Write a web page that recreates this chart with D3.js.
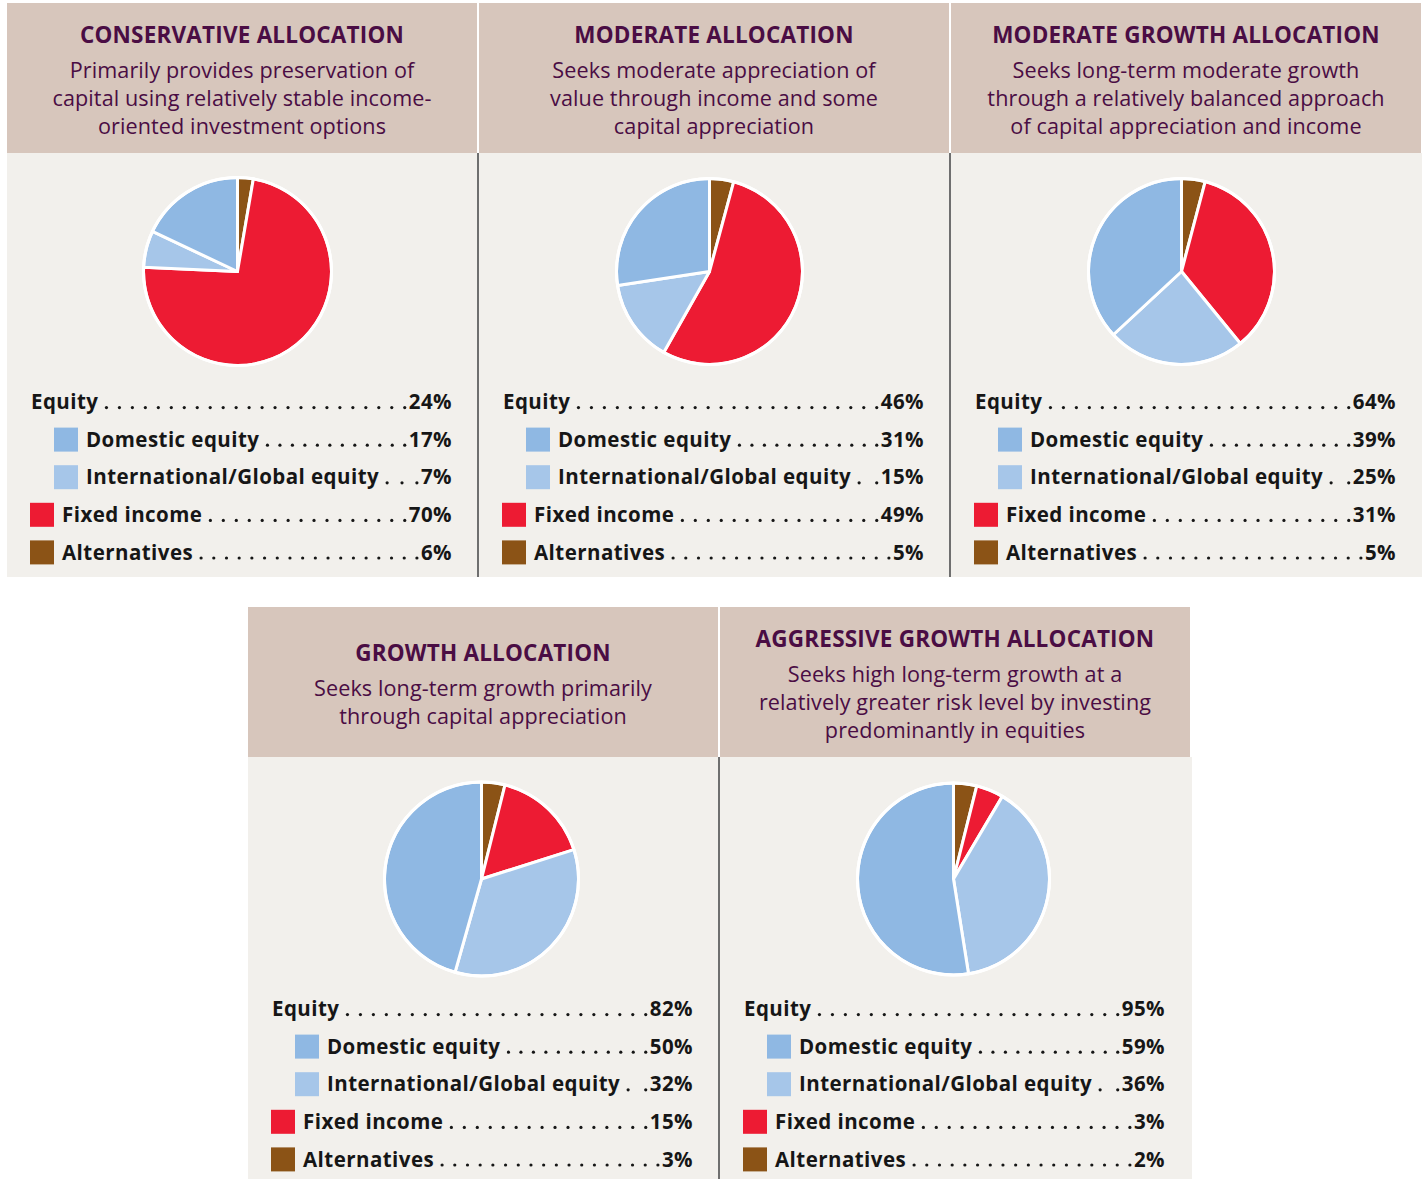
<!DOCTYPE html>
<html lang="en">
    <head>
        <meta charset="utf-8">
        <title>Asset allocation models</title>
        <script type="text/javascript" src="https://cdn.jsdelivr.net/npm/d3@7"></script>
        <style>
            body { margin: 0; background: #ffffff; }
            svg text { font-family: "Open Sans", sans-serif; }
        </style>
    </head>
    <body>
        <div class="chart"></div>
        <script type="text/javascript">
            // panel texts
            var titles = ["CONSERVATIVE ALLOCATION", "MODERATE ALLOCATION", "MODERATE GROWTH ALLOCATION",
                          "GROWTH ALLOCATION", "AGGRESSIVE GROWTH ALLOCATION"];
            var descriptions = [
                ["Primarily provides preservation of", "capital using relatively stable income-", "oriented investment options"],
                ["Seeks moderate appreciation of", "value through income and some", "capital appreciation"],
                ["Seeks long-term moderate growth", "through a relatively balanced approach", "of capital appreciation and income"],
                ["Seeks long-term growth primarily", "through capital appreciation"],
                ["Seeks high long-term growth at a", "relatively greater risk level by investing", "predominantly in equities"]
            ];
            var categories = ["Equity", "Domestic equity", "International/Global equity", "Fixed income", "Alternatives"];

            // listed percentages (legend text)
            var equityPct   = [24, 46, 64, 82, 95];
            var domesticPct = [17, 31, 39, 50, 59];
            var intlPct     = [7, 15, 25, 32, 36];
            var fixedPct    = [70, 49, 31, 15, 3];
            var altPct      = [6, 5, 5, 3, 2];

            // wedge sizes as drawn in the pies (they do not follow the listed numbers exactly)
            var sliceAlt      = [2.7, 4.2, 4.1, 3.9, 3.9];
            var sliceFixed    = [73, 54, 35, 16.2, 4.6];
            var sliceIntl     = [6.3, 14.4, 24, 34.3, 39];
            var sliceDomestic = [18, 27.4, 36.9, 45.6, 52.5];

            var colors = {alt: "#8b5316", fixed: "#ed1b33", intl: "#a6c6e9", dom: "#8fb8e3"};

            var w = 1427, h = 1179;
            var svg = d3.select("div.chart").append("svg")
                        .attr("width", w).attr("height", h);

            // panel boxes: left, header top, body bottom, pie radius
            var panelW = 470;
            var boxes = [
                {x: 7,   top: 3,   bottom: 577, r: 94},
                {x: 479, top: 3,   bottom: 577, r: 93},
                {x: 951, top: 3,   bottom: 577, r: 93},
                {x: 248, top: 607, bottom: 1179, r: 97},
                {x: 720, top: 607, bottom: 1179, r: 96}
            ];
            var headH = 150;

            // body backgrounds (one per row)
            svg.append("rect").attr("x", 7).attr("y", 153).attr("width", 1415).attr("height", 424).attr("fill", "#f2f0ec");
            svg.append("rect").attr("x", 248).attr("y", 757).attr("width", 944).attr("height", 422).attr("fill", "#f2f0ec");

            var pie = d3.pie().sort(null).value(function(d){ return d.v; });
            var arc = d3.arc().innerRadius(0);

            boxes.forEach(function(b, i){
                var g = svg.append("g").attr("transform", "translate(" + b.x + "," + b.top + ")");

                // header
                g.append("rect").attr("x", 0).attr("y", 0).attr("width", panelW).attr("height", headH)
                 .attr("fill", "#d7c6bc");
                var lines = descriptions[i];
                var blockH = 16.7 + 34.3 + 28 * (lines.length - 1);
                var titleY = 77.2 - blockH / 2 + 16.7;
                g.append("text").attr("x", panelW / 2).attr("y", titleY)
                 .attr("text-anchor", "middle").attr("font-size", 22.5).attr("font-weight", 700)
                 .attr("letter-spacing", 0.2)
                 .attr("fill", "#4a0d44").text(titles[i]);
                g.selectAll("text.desc").data(lines).enter().append("text")
                 .attr("class", "desc")
                 .attr("x", panelW / 2)
                 .attr("y", function(d, k){ return titleY + 34.3 + 28 * k; })
                 .attr("text-anchor", "middle").attr("font-size", 21.6).attr("fill", "#4a0d44")
                 .attr("letter-spacing", 0.1)
                 .text(function(d){ return d; });

                // divider to the left of panels 2, 3, 5
                if (i === 1 || i === 2 || i === 4) {
                    svg.append("line")
                       .attr("x1", b.x - 1).attr("x2", b.x - 1)
                       .attr("y1", b.top + headH).attr("y2", b.bottom)
                       .attr("stroke", "#6f6f6f").attr("stroke-width", 2);
                }

                // pie
                var slices = [
                    {k: "alt", v: sliceAlt[i]},
                    {k: "fixed", v: sliceFixed[i]},
                    {k: "intl", v: sliceIntl[i]},
                    {k: "dom", v: sliceDomestic[i]}
                ];
                var cy = (i < 3) ? 268.5 : 272;
                var pg = g.append("g").attr("transform", "translate(" + (i < 3 ? 230.5 : 233.5) + "," + cy + ")");
                arc.outerRadius(b.r);
                pg.selectAll("path").data(pie(slices)).enter().append("path")
                  .attr("d", arc)
                  .attr("fill", function(d){ return colors[d.data.k]; })
                  .attr("stroke", "#ffffff").attr("stroke-width", 3)
                  .attr("stroke-linejoin", "round");
                pg.append("circle").attr("r", b.r).attr("fill", "none")
                  .attr("stroke", "#ffffff").attr("stroke-width", 3);

                // legend rows
                var rows = [
                    {label: categories[0], val: equityPct[i], sw: null, indent: 0},
                    {label: categories[1], val: domesticPct[i], sw: colors.dom, indent: 1},
                    {label: categories[2], val: intlPct[i], sw: colors.intl, indent: 1},
                    {label: categories[3], val: fixedPct[i], sw: colors.fixed, indent: 0},
                    {label: categories[4], val: altPct[i], sw: colors.alt, indent: 0}
                ];
                var y0 = (i < 3) ? 399 : 402;
                var rightX = 445;
                rows.forEach(function(r, k){
                    var cyRow = y0 + 37.6 * k;
                    var base = cyRow + 7.2;
                    var swX = r.indent ? 47 : 23;
                    var lx = r.sw ? swX + 32 : 24;
                    if (r.sw) {
                        g.append("rect").attr("x", swX).attr("y", cyRow - 12).attr("width", 24).attr("height", 24)
                         .attr("fill", r.sw);
                    }
                    var lab = g.append("text").attr("x", lx).attr("y", base)
                               .attr("font-size", 20.5).attr("font-weight", 700).attr("fill", "#161616")
                               .attr("letter-spacing", 0.45)
                               .text(r.label);
                    var val = g.append("text").attr("x", rightX).attr("y", base)
                               .attr("text-anchor", "end")
                               .attr("font-size", 20.5).attr("font-weight", 700).attr("fill", "#161616")
                               .attr("letter-spacing", 0.45)
                               .text(r.val + "%");
                    var x1 = lx + lab.node().getComputedTextLength() + 8;
                    var x2 = rightX - val.node().getComputedTextLength() - 4;
                    // dotted leader, evenly spread between label and value
                    var n = Math.max(1, Math.round((x2 - x1) / 12.8));
                    var step = (x2 - x1) / n;
                    var dots = d3.range(n + 1).map(function(j){ return x1 + j * step; });
                    g.selectAll("circle.dot" + k).data(dots).enter().append("circle")
                     .attr("class", "dot" + k)
                     .attr("cx", function(d){ return d; }).attr("cy", base - 1.6)
                     .attr("r", 1.6).attr("fill", "#161616");
                });
            });
        </script>
    </body>
</html>
